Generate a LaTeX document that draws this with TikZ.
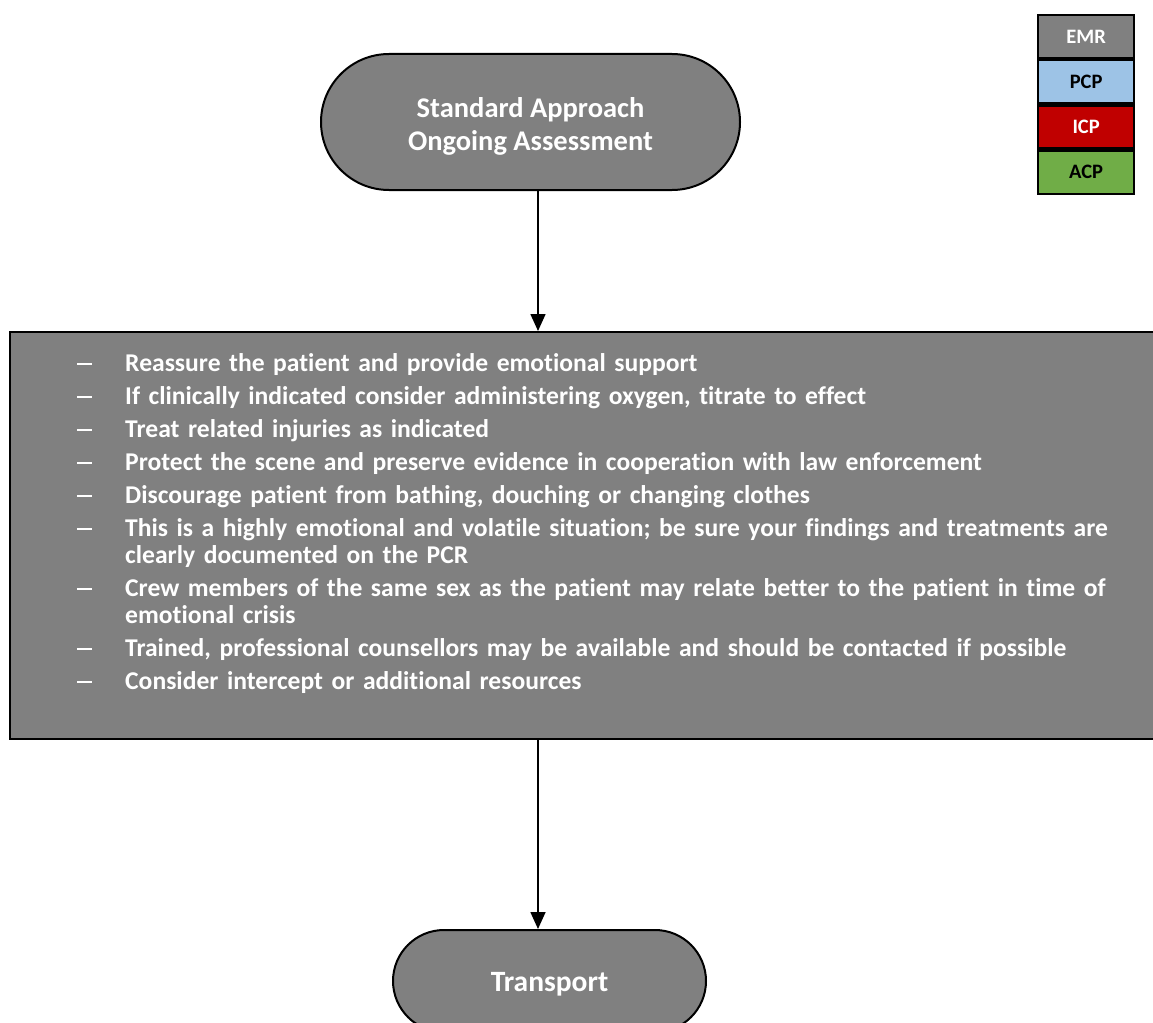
\documentclass[tikz,border=0pt]{standalone}
\usepackage{fontspec}
\setmainfont{Carlito}[Ligatures={NoCommon}]
\usetikzlibrary{arrows.meta,shapes.misc}
\definecolor{boxgray}{HTML}{808080}
\definecolor{pcpblue}{HTML}{9DC3E6}
\definecolor{icpred}{HTML}{C00000}
\definecolor{acpgreen}{HTML}{70AD47}
\tikzset{
  terminal/.style={draw=black, line width=2pt, fill=boxgray, rounded rectangle, text=white, align=center, inner sep=0pt},
  legendcell/.style={draw=black, line width=2.2pt, minimum width=96pt, minimum height=43pt, inner sep=0pt, font=\bfseries\fontsize{20.5}{22}\selectfont},
  flow/.style={line width=1.6pt, -{Triangle[width=15pt,length=17pt]}},
}
\newcommand{\litem}[1]{\noindent\hangindent=48pt\hangafter=1\makebox[48pt][l]{\rule[6.6pt]{15pt}{1.8pt}}#1\par\vspace{6pt}}
\begin{document}
\begin{tikzpicture}[x=1pt,y=-1pt]
\useasboundingbox (0,0) rectangle (1153,1022);
\begin{scope}
\clip (0,0) rectangle (1153,1022);
% top terminal
\node[terminal, minimum width=419pt, minimum height=136pt, font=\bfseries\fontsize{28.5}{33}\selectfont] (top) at (530.5,122) {\rule{0pt}{28pt}Standard Approach\\Ongoing Assessment};
% big box
\node[draw=black, line width=1.6pt, fill=boxgray, minimum width=1160pt, minimum height=407pt, anchor=north west, inner sep=0pt] (box) at (9,331) {};
\node[anchor=north west, text width=1040pt, inner sep=0pt, text=white, font=\bfseries\fontsize{25.6}{27}\selectfont, align=left] (list) at (77,353) {\raggedright%
\litem{Reassure the patient and provide emotional support}
\litem{If clinically indicated consider administering oxygen, titrate to effect}
\litem{Treat related injuries as indicated}
\litem{Protect the scene and preserve evidence in cooperation with law enforcement}
\litem{Discourage patient from bathing, douching or changing clothes}
\litem{This is a highly emotional and volatile situation; be sure your findings and treatments are clearly documented on the PCR}
\litem{Crew members of the same sex as the patient may relate better to the patient in time of emotional crisis}
\litem{Trained, professional counsellors may be available and should be contacted if possible}
\litem{Consider intercept or additional resources}}%
;
% transport
\node[terminal, minimum width=313pt, minimum height=102pt, font=\bfseries\fontsize{29.5}{33}\selectfont] (transport) at (549.5,981) {\rule{0pt}{25pt}Transport};
% arrows
\coordinate (a1) at (538,0);
\draw[flow] (top.south -| a1) -- (box.north -| a1);
\draw[flow] (box.south -| a1) -- (transport.north -| a1);
% legend
\node[legendcell, fill=boxgray, text=white, anchor=north west] (emr) at (1037,14) {EMR};
\node[legendcell, fill=pcpblue, text=black, anchor=north] (pcp) at (emr.south) {PCP};
\node[legendcell, fill=icpred, text=white, anchor=north] (icp) at (pcp.south) {ICP};
\node[legendcell, fill=acpgreen, text=black, anchor=north] (acp) at (icp.south) {ACP};
\end{scope}
\end{tikzpicture}
\end{document}
